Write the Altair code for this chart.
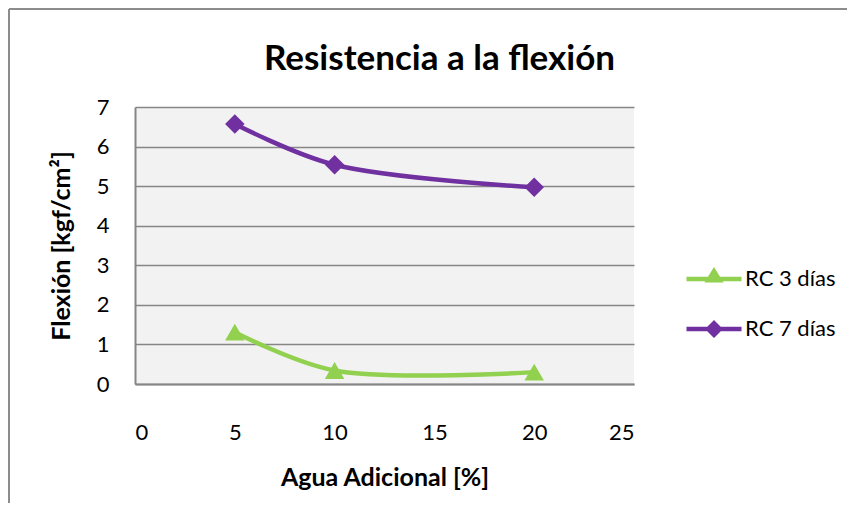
import altair as alt
import pandas as pd

agua = [5, 10, 20]
rc3 = [1.31, 0.34, 0.30]
rc7 = [6.57, 5.54, 4.97]
series_names = ["RC 3 días", "RC 7 días"]
colors = ["#92D050", "#7030A0"]
x_ticks = [0, 5, 10, 15, 20, 25]
y_ticks = [0, 1, 2, 3, 4, 5, 6, 7]

rows = []
for a, v in zip(agua, rc3):
    rows.append({"agua": a, "valor": v, "serie": series_names[0]})
for a, v in zip(agua, rc7):
    rows.append({"agua": a, "valor": v, "serie": series_names[1]})
df = pd.DataFrame(rows)

FONT = "Lato"
GRAY = "#868686"

x_enc = alt.X("agua:Q", scale=alt.Scale(domain=[0, 25], nice=False),
              axis=alt.Axis(values=x_ticks, title="Agua Adicional [%]", grid=False,
                            ticks=False, domainColor=GRAY, domainWidth=2,
                            labelFontSize=22, labelPadding=38, titleFontSize=25,
                            titleFontWeight="bold", titlePadding=22, labelOverlap=False,
                            labelColor="black", titleColor="black"))
y_enc = alt.Y("valor:Q", scale=alt.Scale(domain=[0, 7], nice=False),
              axis=alt.Axis(values=y_ticks, title="Flexión [kgf/cm²]", grid=True,
                            gridColor=GRAY, gridWidth=1.5, ticks=False,
                            domainColor=GRAY, domainWidth=2, labelOverlap=False,
                            labelFontSize=22, labelPadding=26, titleFontSize=25,
                            titleFontWeight="bold", titlePadding=22,
                            labelColor="black", titleColor="black"))

tri_path = "M-1.375,-0.11L1.375,-0.11L1.375,0.11L-1.375,0.11Z M0,-0.6L0.48,0.18L-0.48,0.18Z"
dia_path = "M-1.375,-0.11L1.375,-0.11L1.375,0.11L-1.375,0.11Z M0,-0.45L0.45,0L0,0.45L-0.45,0Z"

leg = alt.Legend(title=None, orient="none", legendX=559, legendY=152,
                 labelFontSize=22, labelOffset=11, rowPadding=19,
                 symbolSize=1600, symbolOpacity=1, labelColor="black",
                 symbolStrokeWidth=0)

color_scale = alt.Scale(domain=series_names, range=colors)
color_enc = alt.Color("serie:N", scale=color_scale, legend=leg)

base = alt.Chart(df).encode(x=x_enc, y=y_enc)

legend_layer = base.mark_point(filled=True, size=1600, opacity=0).encode(
    color=color_enc,
    shape=alt.Shape("serie:N", scale=alt.Scale(domain=series_names, range=[tri_path, dia_path]),
                    legend=leg))

lines = base.mark_line(interpolate="catmull-rom", strokeWidth=4.5, strokeCap="round").encode(
    color=color_enc, detail="serie:N")

pts3 = base.transform_filter(alt.datum.serie == series_names[0]).mark_point(
    shape="triangle-up", filled=True, size=380, opacity=1).encode(color=color_enc)
pts7 = base.transform_filter(alt.datum.serie == series_names[1]).mark_point(
    shape="diamond", filled=True, size=380, opacity=1).encode(color=color_enc)

frame_df = pd.DataFrame({"k": [0]})
top_rule = alt.Chart(frame_df).mark_rule(color="#8c8c8c", strokeWidth=2).encode(
    x=alt.value(-126), x2=alt.value(712), y=alt.value(-98))
left_rule = alt.Chart(frame_df).mark_rule(color="#8c8c8c", strokeWidth=2).encode(
    x=alt.value(-126), y=alt.value(-98), y2=alt.value(396))

chart = alt.layer(legend_layer, top_rule, left_rule, lines, pts3, pts7).properties(
    width=499, height=277, padding=0,
    title=alt.TitleParams("Resistencia a la flexión", fontSize=35, fontWeight="bold",
                          anchor="middle", dx=55, offset=-69, color="black", font=FONT)
).configure(font=FONT).configure_view(fill="#F2F2F2", stroke=None)

chart.save("out.html", embed_options={"renderer": "svg", "actions": False})
